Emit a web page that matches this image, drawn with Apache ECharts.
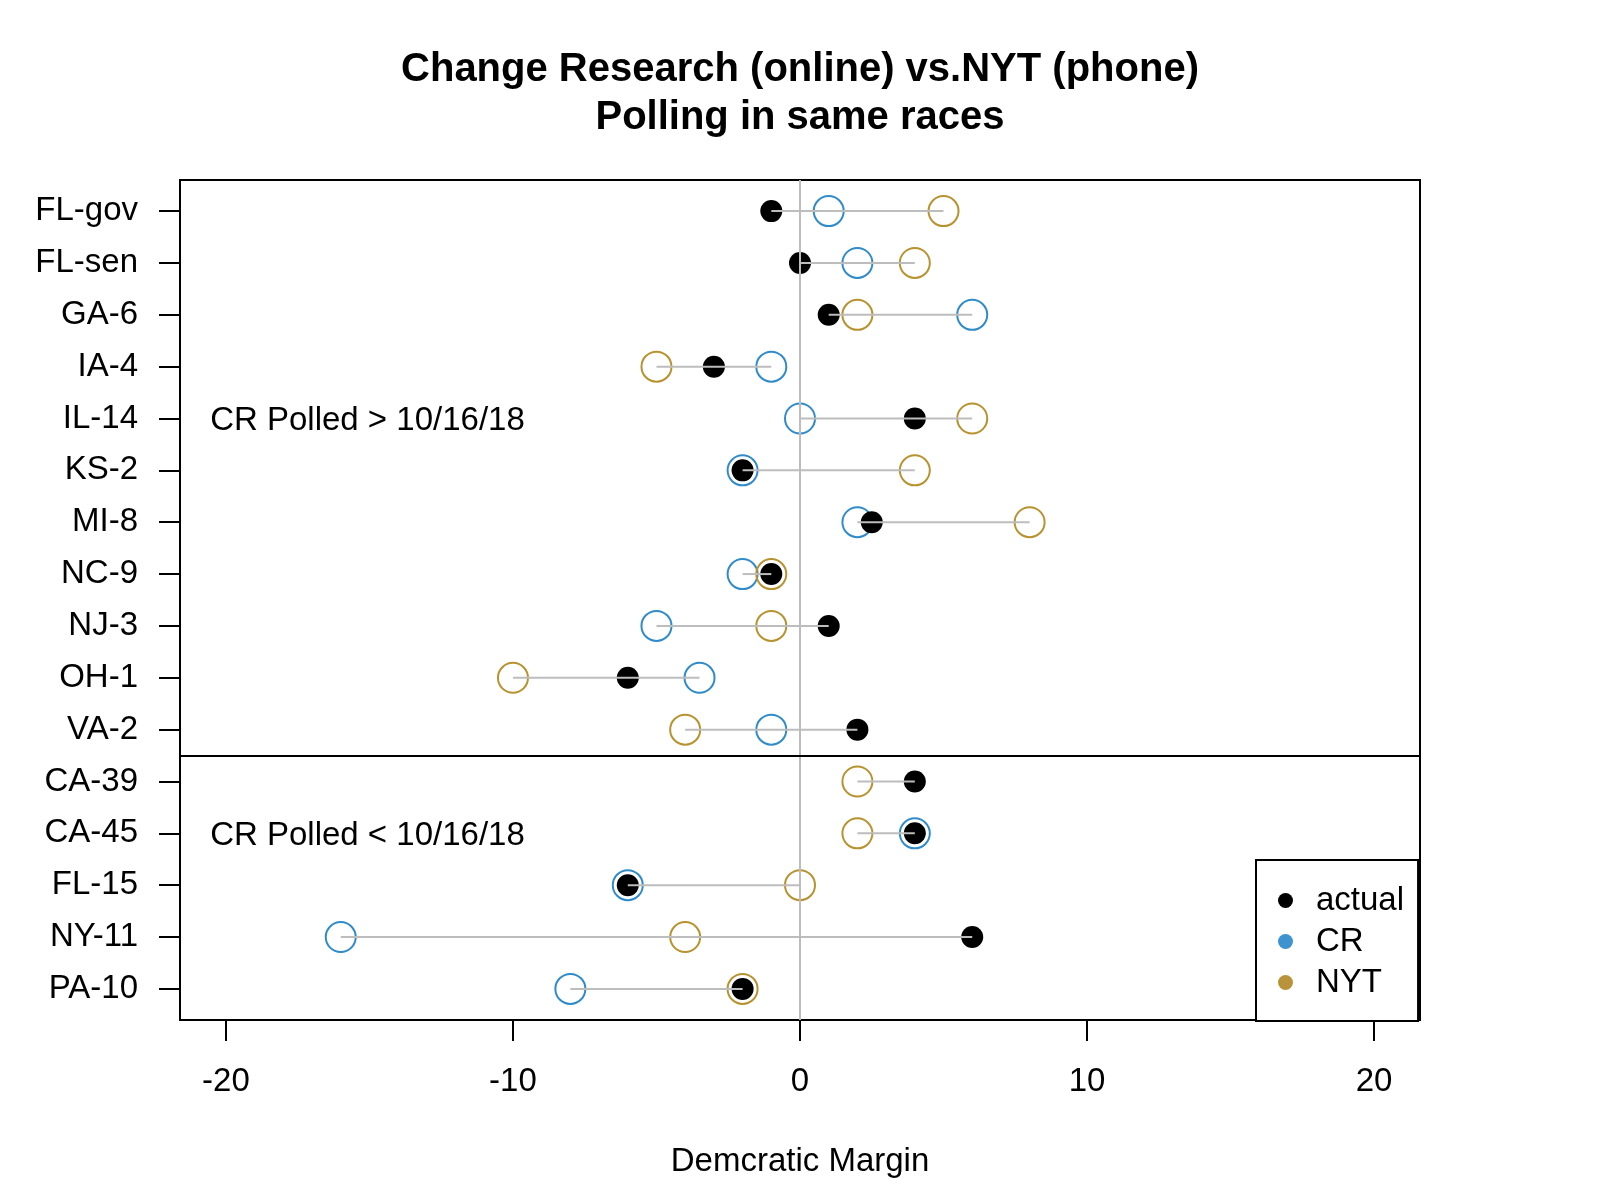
<!DOCTYPE html>
<html>
<head>
<meta charset="utf-8">
<script src="https://cdn.jsdelivr.net/npm/echarts@6/dist/echarts.min.js"></script>
<style>
  html, body { margin: 0; padding: 0; background: #fff; }
  #main { width: 1600px; height: 1200px; }
</style>
</head>
<body>
<div id="main"></div>
<script>
// races from top to bottom, values are Democratic margin
var races  = ['FL-gov', 'FL-sen', 'GA-6', 'IA-4', 'IL-14', 'KS-2', 'MI-8', 'NC-9', 'NJ-3', 'OH-1', 'VA-2',
              'CA-39', 'CA-45', 'FL-15', 'NY-11', 'PA-10'];
var actual = [-1, 0, 1, -3, 4, -2, 2.5, -1, 1, -6, 2, 4, 4, -6, 6, -2];
var cr     = [1, 2, 6, -1, 0, -2, 2, -2, -5, -3.5, -1, null, 4, -6, -16, -8];
var nyt    = [5, 4, 2, -5, 6, 4, 8, -1, -1, -10, -4, 2, 2, 0, -4, -2];
var xTicks = [-20, -10, 0, 10, 20];
var notes  = [
  { text: 'CR Polled > 10/16/18', row: 5 },
  { text: 'CR Polled < 10/16/18', row: 13 }
];
var splitAfter = 11; // CR polled after 10/16 for first 11 races

var FONT = '"Liberation Sans", Arial, Helvetica, sans-serif';
var BLUE = '#2F8BC9';
var GOLD = '#B8922E';
var GREY = '#BDBDBD';

var rows = races.map(function (r, i) { return i + 1; });

function pts(vals) {
  var out = [];
  vals.forEach(function (v, i) {
    if (v !== null) out.push([v, i + 1]);
  });
  return out;
}

// min/max span of the three values in each row
var spans = races.map(function (r, i) {
  var vs = [actual[i], cr[i], nyt[i]].filter(function (v) { return v !== null; });
  return [Math.min.apply(null, vs), Math.max.apply(null, vs), i + 1];
});

var chart = echarts.init(document.getElementById('main'));

var option = {
  backgroundColor: '#fff',
  animation: false,
  title: {
    text: 'Change Research (online) vs.NYT (phone)\nPolling in same races',
    left: 'center',
    top: 46,
    padding: 0,
    textStyle: {
      fontFamily: FONT,
      fontSize: 40,
      fontWeight: 'bold',
      lineHeight: 48,
      color: '#000'
    }
  },
  legend: {
    orient: 'vertical',
    left: 1256,
    top: 860,
    padding: [24, 14, 22, 22],
    itemWidth: 15,
    itemHeight: 15,
    itemGap: 8,
    borderColor: '#000',
    borderWidth: 2,
    borderRadius: 0,
    backgroundColor: '#fff',
    textStyle: { fontFamily: FONT, fontSize: 33, lineHeight: 32, color: '#000', padding: [0, 0, 0, 18] },
    data: [
      { name: 'actual', icon: 'circle', itemStyle: { color: '#000', borderWidth: 0, opacity: 1 } },
      { name: 'CR', icon: 'circle', itemStyle: { color: '#3D93CF', borderWidth: 0, opacity: 1 } },
      { name: 'NYT', icon: 'circle', itemStyle: { color: '#B8933A', borderWidth: 0, opacity: 1 } }
    ],
    selectedMode: false,
    z: 10
  },
  grid: {
    left: 180,
    right: 180,
    top: 180,
    bottom: 180,
    show: true,
    borderColor: '#000',
    borderWidth: 2,
    backgroundColor: 'transparent'
  },
  xAxis: {
    type: 'value',
    min: -21.6,
    max: 21.6,
    name: 'Demcratic Margin',
    nameLocation: 'middle',
    nameGap: 125,
    nameTextStyle: { fontFamily: FONT, fontSize: 33, color: '#000' },
    axisLine: { show: false, onZero: false },
    splitLine: { show: false },
    axisTick: { show: true, length: 21, lineStyle: { color: '#000', width: 2 }, customValues: xTicks },
    axisLabel: { fontFamily: FONT, fontSize: 33, color: '#000', margin: 45, customValues: xTicks }
  },
  yAxis: {
    type: 'value',
    inverse: true,
    min: 0.4,
    max: races.length + 0.6,
    axisLine: { show: false, onZero: false },
    splitLine: { show: false },
    axisTick: { show: true, length: 21, lineStyle: { color: '#000', width: 2 }, customValues: rows },
    axisLabel: {
      fontFamily: FONT, fontSize: 33, color: '#000', margin: 42, customValues: rows,
      padding: [8, 0, 0, 0],
      formatter: function (v) { return races[Math.round(v) - 1] || ''; }
    }
  },
  series: [
    {
      name: 'guides',
      type: 'scatter',
      data: [],
      z: 1,
      markLine: {
        silent: true,
        symbol: 'none',
        label: { show: false },
        animation: false,
        data: [
          { xAxis: 0, lineStyle: { color: GREY, width: 2, type: 'solid' } },
          { yAxis: splitAfter + 0.5, lineStyle: { color: '#000', width: 2, type: 'solid' } }
        ]
      }
    },
    {
      name: 'CR',
      type: 'scatter',
      data: pts(cr),
      symbol: 'circle',
      symbolSize: 30,
      itemStyle: { color: 'rgba(0,0,0,0)', borderColor: BLUE, borderWidth: 2, opacity: 1 },
      z: 3
    },
    {
      name: 'NYT',
      type: 'scatter',
      data: pts(nyt),
      symbol: 'circle',
      symbolSize: 30,
      itemStyle: { color: 'rgba(0,0,0,0)', borderColor: GOLD, borderWidth: 2, opacity: 1 },
      z: 3
    },
    {
      name: 'actual',
      type: 'scatter',
      data: pts(actual),
      symbol: 'circle',
      symbolSize: 22,
      itemStyle: { color: '#000', opacity: 1 },
      z: 4
    },
    {
      name: 'span',
      type: 'custom',
      data: spans,
      z: 5,
      silent: true,
      renderItem: function (params, api) {
        var a = api.coord([api.value(0), api.value(2)]);
        var b = api.coord([api.value(1), api.value(2)]);
        return {
          type: 'line',
          shape: { x1: a[0], y1: a[1], x2: b[0], y2: b[1] },
          style: { stroke: GREY, lineWidth: 2 }
        };
      }
    }
  ]
};

chart.setOption(option);

// text annotations for the two groups of races
chart.setOption({
  graphic: notes.map(function (n) {
    var p = chart.convertToPixel({ gridIndex: 0 }, [-20.55, n.row]);
    return {
      type: 'text',
      left: p[0],
      top: p[1] - 14,
      style: { text: n.text, font: '33px ' + FONT, fill: '#000' }
    };
  })
});
</script>
</body>
</html>
